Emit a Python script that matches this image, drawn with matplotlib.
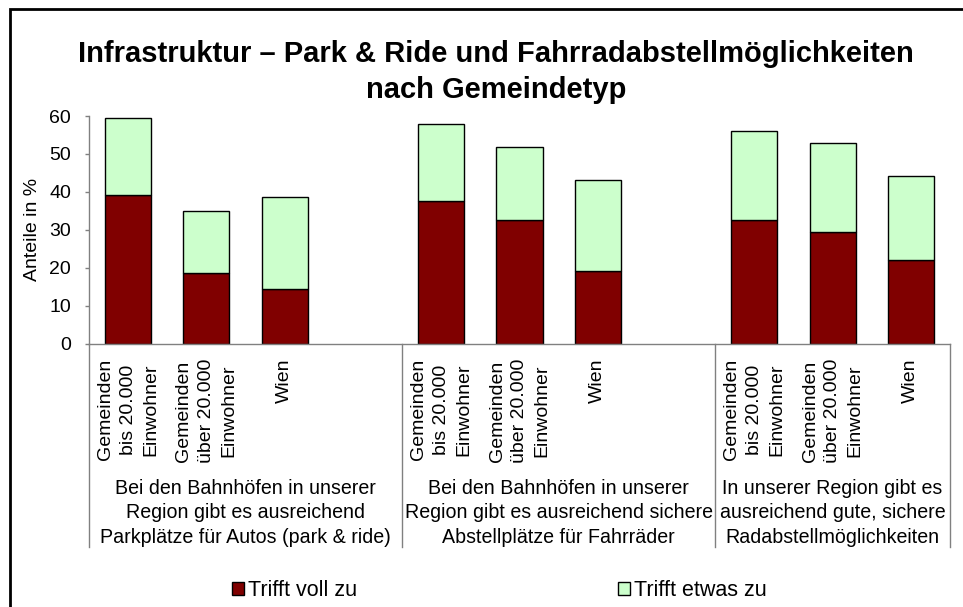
import numpy as np
import matplotlib
matplotlib.use("Agg")
import matplotlib.pyplot as plt
import matplotlib.transforms as mtransforms
from matplotlib.patches import Rectangle, Patch
from matplotlib.lines import Line2D

plt.rcParams['font.family'] = ['Liberation Sans', 'DejaVu Sans']

# Daten: Anteile in % je Aussage und Gemeindetyp
gemeindetyp = ["Gemeinden\nbis 20.000\nEinwohner",
               "Gemeinden\nüber 20.000\nEinwohner",
               "Wien"]
aussagen = ["Bei den Bahnhöfen in unserer\nRegion gibt es ausreichend\nParkplätze für Autos (park & ride)",
            "Bei den Bahnhöfen in unserer\nRegion gibt es ausreichend sichere\nAbstellplätze für Fahrräder",
            "In unserer Region gibt es\nausreichend gute, sichere\nRadabstellmöglichkeiten"]
voll_zu = [39.1, 18.7, 14.4,
           37.6, 32.6, 19.1,
           32.6, 29.4, 21.9]
etwas_zu = [20.3, 16.3, 24.3,
            20.4, 19.3, 24.0,
            23.4, 23.6, 22.3]
serien = ["Trifft voll zu", "Trifft etwas zu"]

ROT = "#800000"
GRUEN = "#CCFFCC"
GRAU = "#808080"

fig = plt.figure(figsize=(9.63, 6.07), dpi=100)
W, H = 963, 607

# Achsenbereich in Pixeln
x0, x1 = 89, 950
y_top, y_base = 116, 343.5
ax = fig.add_axes([x0 / W, 1 - y_base / H, (x1 - x0) / W, (y_base - y_top) / H])

# 4 + 4 + 3 Plätze, je Gruppe ein leerer Platz am Ende (außer der letzten)
pos = []
for g in range(3):
    for k in range(3):
        pos.append(g * 4 + k)
pos = np.array(pos)

breite = 0.59
ax.bar(pos, voll_zu, breite, color=ROT, edgecolor="black", linewidth=1.0)
ax.bar(pos, etwas_zu, breite, bottom=voll_zu, color=GRUEN, edgecolor="black", linewidth=1.0)

ax.set_xlim(-0.5, 10.5)
ax.set_ylim(0, 60)
ax.set_yticks(np.arange(0, 61, 10))
ax.tick_params(axis='y', direction='out', length=3, width=1, color=GRAU,
               labelsize=14, pad=10)
for s in ["top", "right"]:
    ax.spines[s].set_visible(False)
for s in ["left", "bottom"]:
    ax.spines[s].set_color(GRAU)
    ax.spines[s].set_linewidth(1)

ax.set_xticks(pos)
ax.set_xticklabels(gemeindetyp * 3, rotation=90, fontsize=14,
                   va='top', ha='center', multialignment='center', linespacing=1.42)
ax.tick_params(axis='x', length=0, pad=11)

# Trennlinien zwischen den Gruppen unter der Achse
trans = mtransforms.blended_transform_factory(ax.transData, ax.transAxes)
unten = -(547 - y_base) / (y_base - y_top)
for xs in [-0.5, 3.5, 7.5, 10.5]:
    ax.add_line(Line2D([xs, xs], [0, unten], transform=trans, color=GRAU,
                       linewidth=1, clip_on=False))

mitten = [1.5, 5.5, 9.0]
y_gruppe = -(513 - y_base) / (y_base - y_top)
for xm, txt in zip(mitten, aussagen):
    ax.text(xm, y_gruppe, txt, transform=trans, ha='center', va='center',
            fontsize=14.1, linespacing=1.37, multialignment='center')

fig.text(32.5 / W, 1 - 229.5 / H, "Anteile in %", rotation=90,
         ha='center', va='center', fontsize=14)

fig.text(496 / W, 1 - 72 / H,
         "Infrastruktur – Park & Ride und Fahrradabstellmöglichkeiten\nnach Gemeindetyp",
         ha='center', va='center', fontsize=21, fontweight='bold', linespacing=1.36)

# Legende
for farbe, name, lx in [(ROT, serien[0], 232), (GRUEN, serien[1], 618)]:
    fig.legend(handles=[Patch(facecolor=farbe, edgecolor="black", linewidth=1)],
               labels=[name], loc='center left',
               bbox_to_anchor=(lx / W, 1 - 591 / H), frameon=False,
               fontsize=15.5, handlelength=0.55, handleheight=0.55,
               handletextpad=0.2, borderpad=0, borderaxespad=0)

# Rahmen um das Diagramm
fig.patches.append(Rectangle((10 / W, -0.1), 1.2, 1 - 9 / H + 0.1,
                             transform=fig.transFigure, fill=False,
                             edgecolor="black", linewidth=2))

fig.savefig("out.png", dpi=100)
